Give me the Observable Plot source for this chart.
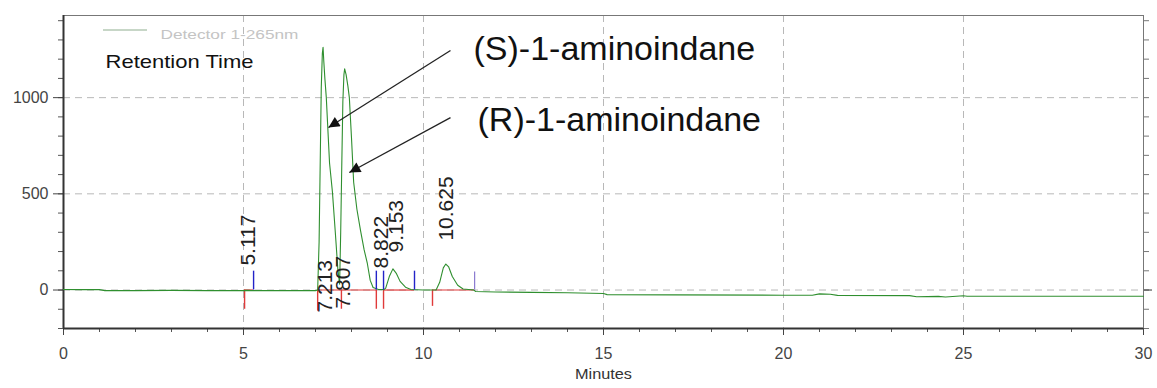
<!DOCTYPE html>
<html><head><meta charset="utf-8">
<script src="https://cdn.jsdelivr.net/npm/d3@7"></script>
<script src="https://cdn.jsdelivr.net/npm/@observablehq/plot@0.6"></script>
<style>body{margin:0;background:#fff;font-family:"Liberation Sans",Arial,sans-serif}</style>
</head><body><div id="chart"></div>
<script>
// Chromatogram trace (minutes, mV)
const traceMinutes = [0,0.5,1.0,1.15,2,3,4,5,5.1,5.25,6,7.0,7.06,7.1,7.13,7.16,7.19,7.21,7.23,7.26,7.3,7.39,7.47,7.55,7.62,7.67,7.7,7.73,7.76,7.79,7.81,7.85,7.9,7.94,8.0,8.06,8.15,8.25,8.35,8.44,8.52,8.6,8.75,8.9,8.95,9.05,9.15,9.25,9.35,9.5,9.65,10.0,10.35,10.45,10.55,10.62,10.7,10.8,10.95,11.1,11.4,11.45,12,13,14,15,15.1,17,20,20.8,21.0,21.3,21.5,23.5,23.7,24.3,24.5,25.0,25.1,30];
const traceSignal  = [3,2,2,-3,-3,-2,-3,-3,-2,-3,-3,-3,0,250,650,1050,1230,1262,1190,1100,1000,660,510,300,110,30,300,650,980,1120,1150,1120,1060,1000,790,560,420,310,210,138,50,13,3,2,10,70,110,85,45,15,3,0,0,40,115,135,120,70,25,5,0,-8,-10,-12,-14,-18,-24,-25,-27,-27,-20,-22,-28,-29,-35,-33,-36,-30,-32,-32];

// Retention-time labels
const peakNames   = ["5.117","7.213","7.807","8.822","9.153","10.625"];
const peakLabelX  = [5.14, 7.28, 7.78, 8.83, 9.25, 10.64];
const peakLabelY  = [127, -117, -96, 112, 195, 257];

// Integration marks
const startMarks  = [5.03, 7.06, 7.72, 8.69, 8.89, 10.25];   // red, below baseline
const startDepth  = [-100, -110, -100, -100, -100, -85];
const endMarks    = [5.28, 8.69, 8.89, 9.75];                 // blue, above baseline
const endHeight   = [98, 98, 98, 98];
const lastEnd     = [11.42];
const lastEndH    = [94];
const baseStart   = [5.03, 7.06, 8.89, 10.25];
const baseEnd     = [5.28, 8.69, 9.75, 11.42];

// Annotations
const annTexts = ["(S)-1-aminoindane", "(R)-1-aminoindane"];
const annX     = [11.39, 11.5];
const annY     = [1250, 881];
const arrowX1  = [10.75, 10.75];
const arrowY1  = [1245, 896];
const arrowX2  = [7.36, 7.94];
const arrowY2  = [845, 611];

const xMajor = d3.range(0, 31, 5);
const xMinor = d3.range(0, 31, 1);
const yMajor = [0, 500, 1000];
const yMinor = d3.range(-200, 1401, 100);
const xGrid = [5, 10, 15, 20, 25];

const trace = traceMinutes.map((m, i) => ({m, v: traceSignal[i]}));
const peaks = peakNames.map((t, i) => ({t, x: peakLabelX[i], y: peakLabelY[i]}));
const reds = startMarks.map((x, i) => ({x, y: startDepth[i]}));
const blues = endMarks.map((x, i) => ({x, y: endHeight[i]}));
const last = lastEnd.map((x, i) => ({x, y: lastEndH[i]}));
const bases = baseStart.map((a, i) => ({a, b: baseEnd[i]}));
const anns = annTexts.map((t, i) => ({t, x: annX[i], y: annY[i]}));
const arrows = arrowX1.map((x1, i) => ({x1, y1: arrowY1[i], x2: arrowX2[i], y2: arrowY2[i]}));

const blank = () => "";
const plain = d => String(d);
const chart = Plot.plot({
  width: 1157, height: 388,
  marginLeft: 63, marginRight: 14, marginTop: 15, marginBottom: 60,
  style: {fontFamily: "Liberation Sans, Arial, sans-serif", fontSize: "16px", background: "#fff", overflow: "visible"},
  x: {domain: [0, 30]},
  y: {domain: [-200, 1427]},
  marks: [
    Plot.ruleX(xGrid, {stroke: "#b8b8b8", strokeDasharray: "7,5"}),
    Plot.ruleY(yMajor, {stroke: "#b8b8b8", strokeDasharray: "7,5"}),
    Plot.frame({stroke: "#777"}),
    Plot.axisY({ticks: yMinor, tickSize: 5, tickFormat: blank, label: null, color: "#555"}),
    Plot.axisY({ticks: yMajor, tickSize: 10, tickPadding: 5, tickFormat: plain, label: null, color: "#444", fontSize: 16}),
    Plot.axisY({anchor: "right", ticks: yMinor, tickSize: 5, tickFormat: blank, label: null, color: "#777"}),
    Plot.axisY({anchor: "right", ticks: [0], tickSize: 8, tickFormat: blank, label: null, color: "#333"}),
    Plot.axisX({ticks: xMinor, tickSize: 4, tickFormat: blank, label: null, color: "#555"}),
    Plot.axisX({ticks: xMajor, tickSize: 7, tickPadding: 12, tickFormat: plain, label: null, color: "#444", fontSize: 16}),
    Plot.ruleX([0], {stroke: "#333", strokeWidth: 2}),
    Plot.ruleY([-200], {stroke: "#333", strokeWidth: 2}),
    Plot.ruleY(bases, {y: 0, x1: "a", x2: "b", stroke: "#e03a3a", strokeWidth: 1.2}),
    Plot.ruleX(reds, {x: "x", y1: 0, y2: "y", stroke: "#e03a3a", strokeWidth: 1.4}),
    Plot.line(trace, {x: "m", y: "v", stroke: "#2f8f2f", strokeWidth: 1.1}),
    Plot.ruleX(blues, {x: "x", y1: 0, y2: "y", stroke: "#2323c8", strokeWidth: 1.4}),
    Plot.ruleX(last, {x: "x", y1: 0, y2: "y", stroke: "#8a7ad0", strokeWidth: 1.2}),
    Plot.text(peaks, {x: "x", y: "y", text: "t", rotate: -90, textAnchor: "start", fontSize: 21, fill: "#222"}),
    Plot.text(anns, {x: "x", y: "y", text: "t", textAnchor: "start", fontSize: 34, fill: "#111"}),
    Plot.link(arrows, {x1: "x1", y1: "y1", x2: "x2", y2: "y2", stroke: "#222", strokeWidth: 1.3, className: "annarrow"}),
    Plot.text(["Detector 1-265nm"], {frameAnchor: "top-left", dx: 97, dy: 14.5, textAnchor: "start", fontSize: 13, fill: "#c4c4c4", className: "legdet"}),
    Plot.text(["Retention Time"], {frameAnchor: "top-left", dx: 42, dy: 38.6, textAnchor: "start", fontSize: 19, fill: "#111", className: "legrt"}),
    Plot.text(["Minutes"], {frameAnchor: "bottom", dy: 50, fontSize: 15, fill: "#333", className: "xlab"})
  ]
});
document.getElementById("chart").append(chart);

const svg = d3.select(chart);
const defs = svg.insert("defs", ":first-child");
defs.append("marker").attr("id", "tri").attr("viewBox", "0 0 10 10")
  .attr("refX", 10).attr("refY", 5).attr("markerWidth", 15).attr("markerHeight", 11)
  .attr("markerUnits", "userSpaceOnUse").attr("orient", "auto")
  .append("path").attr("d", "M0,0L10,5L0,10Z").attr("fill", "#111");
svg.selectAll(".annarrow path").attr("marker-end", "url(#tri)");
svg.selectAll(".legdet text").attr("textLength", 138).attr("lengthAdjust", "spacingAndGlyphs");
svg.selectAll(".legrt text").attr("textLength", 148).attr("lengthAdjust", "spacingAndGlyphs");
svg.selectAll(".xlab text").attr("textLength", 57).attr("lengthAdjust", "spacingAndGlyphs");
svg.append("line").attr("x1", 103).attr("x2", 147).attr("y1", 30).attr("y2", 30)
  .attr("stroke", "#8fae8f").attr("stroke-width", 1);
</script>
</body></html>
